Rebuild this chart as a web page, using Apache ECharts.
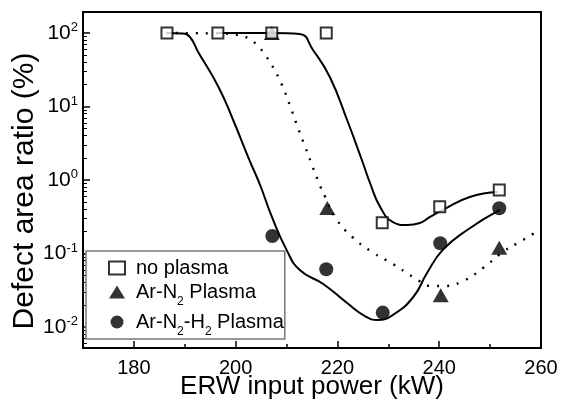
<!DOCTYPE html>
<html>
<head>
<meta charset="utf-8">
<script src="https://cdn.jsdelivr.net/npm/echarts@6/dist/echarts.min.js"></script>
<style>html,body{margin:0;padding:0;background:#fff;}#c{width:573px;height:403px;}</style>
</head>
<body>
<div id="c"></div>
<script>
// ---- data ----
const xNoPlasma = [186.5, 196.5, 207.1, 217.8, 228.8, 240.1, 251.8];
const yNoPlasma = [100, 100, 100, 100, 0.262, 0.434, 0.73];
const xArN2 = [207.1, 218.0, 240.3, 251.8];
const yArN2 = [100, 0.416, 0.027, 0.12];
const xArN2H2 = [207.2, 217.8, 228.9, 240.2, 251.8];
const yArN2H2 = [0.173, 0.061, 0.0157, 0.138, 0.412];

// fitted guide curves
const xFitNoPlasma = [196.5, 207.1, 212.6, 215.2, 218.5, 221.9, 224.8, 226.4, 228.4, 230.9, 233.7, 236.2, 238.2, 240.7, 246.0, 251.5];
const yFitNoPlasma = [100, 100, 96.9, 58.7, 25.2, 6.55, 1.87, 0.91, 0.43, 0.268, 0.244, 0.26, 0.314, 0.391, 0.587, 0.687];
const xFitArN2 = [186.3, 196.5, 200.5, 202.4, 204.2, 205.8, 207.1, 209.1, 210.7, 212.1, 213.6, 215.0, 216.6, 217.6, 219.5, 222.9, 226.8, 230.9, 234.9, 238.6, 240.7, 244.7, 248.6, 252.5, 256.5, 259.0];
const yFitArN2 = [100, 98.4, 93.9, 85.5, 68.7, 50.2, 36.7, 19.6, 10.16, 5.43, 2.90, 1.60, 0.829, 0.587, 0.314, 0.168, 0.105, 0.072, 0.0479, 0.0361, 0.0361, 0.0423, 0.0635, 0.105, 0.153, 0.196];
const xFitArN2H2 = [186.3, 189.5, 191.0, 192.6, 196.6, 199.5, 202.7, 204.8, 207.1, 210.0, 212.6, 217.2, 221.9, 225.4, 227.8, 230.9, 234.9, 237.6, 240.7, 245.5, 251.9];
const yFitArN2H2 = [100, 98.4, 88.2, 55.7, 18.6, 6.55, 1.87, 0.855, 0.317, 0.112, 0.0596, 0.0385, 0.0212, 0.0141, 0.01245, 0.0146, 0.0256, 0.0543, 0.112, 0.209, 0.391];

const xMajorTicks = [180, 200, 220, 240, 260];
const xMinorTicks = [190, 210, 230, 250];
const yMajorTicks = [0.01, 0.1, 1, 10, 100];
const yMinorTicks = [0.006, 0.007, 0.008, 0.009,
  0.02, 0.03, 0.04, 0.05, 0.06, 0.07, 0.08, 0.09,
  0.2, 0.3, 0.4, 0.5, 0.6, 0.7, 0.8, 0.9,
  2, 3, 4, 5, 6, 7, 8, 9,
  20, 30, 40, 50, 60, 70, 80, 90];

const xMin = 170, xMax = 260;
const yMin = 0.00518, yMax = 193;

const seriesNames = ['no plasma', 'Ar-N2 Plasma', 'Ar-N2-H2 Plasma'];
const legendLabels = {
  'no plasma': '{m|no plasma}',
  'Ar-N2 Plasma': '{m|Ar-N}{s|2}{m| Plasma}',
  'Ar-N2-H2 Plasma': '{m|Ar-N}{s|2}{m|-H}{s|2}{m| Plasma}'
};

const zip = (xs, ys) => xs.map((x, i) => [x, ys[i]]);
const FONT = 'Liberation Sans, Arial, Helvetica, sans-serif';

const chart = echarts.init(document.getElementById('c'), null, {renderer: 'canvas'});
chart.setOption({
  backgroundColor: '#fff',
  animation: false,
  textStyle: {fontFamily: FONT, color: '#000'},
  grid: {left: 83, right: 32, top: 12, bottom: 55, containLabel: false, outerBoundsMode: 'none',
         show: true, borderColor: '#000', borderWidth: 2, backgroundColor: 'transparent'},
  legend: {
    data: seriesNames,
    orient: 'vertical',
    left: 86, top: 251,
    padding: [7, 1, 1, 22],
    itemGap: -2,
    itemWidth: 16, itemHeight: 13,
    backgroundColor: '#fff',
    borderColor: '#777', borderWidth: 1.5, borderRadius: 0,
    formatter: n => legendLabels[n],
    textStyle: {
      padding: [0, 0, 0, 6],
      rich: {
        m: {fontSize: 20, lineHeight: 20, fontFamily: FONT, color: '#000'},
        s: {fontSize: 12, lineHeight: 12, padding: [20, 0, 0, 0], fontFamily: FONT, color: '#000'}
      }
    }
  },
  xAxis: [{
    type: 'value', min: xMin, max: xMax,
    name: 'ERW input power (kW)', nameLocation: 'middle', nameGap: 26, nameMoveOverlap: false,
    nameTextStyle: {fontSize: 26, fontFamily: FONT, color: '#000'},
    axisLine: {lineStyle: {color: '#000', width: 2}},
    axisTick: {inside: true, length: 7, lineStyle: {color: '#000', width: 1.5}, customValues: xMajorTicks},
    axisLabel: {fontSize: 20, color: '#000', margin: 10, fontFamily: FONT, customValues: xMajorTicks},
    splitLine: {show: false}
  }, {
    type: 'value', min: xMin, max: xMax, position: 'bottom',
    axisLine: {show: false},
    axisTick: {inside: true, length: 4, lineStyle: {color: '#000', width: 1.5}, customValues: xMinorTicks},
    axisLabel: {show: false},
    splitLine: {show: false}
  }],
  yAxis: [{
    type: 'log', logBase: 10, min: yMin, max: yMax,
    name: 'Defect area ratio (%)', nameLocation: 'middle', nameGap: 43, nameRotate: 90, nameMoveOverlap: false,
    nameTextStyle: {fontSize: 30, fontFamily: FONT, color: '#000', padding: [0, 22, 0, 0]},
    axisLine: {lineStyle: {color: '#000', width: 2}},
    axisTick: {inside: true, length: 7, lineStyle: {color: '#000', width: 1.5}, customValues: yMajorTicks},
    axisLabel: {
      margin: 5, customValues: yMajorTicks,
      formatter: v => '{b|10}{p|' + Math.round(Math.log10(v)) + '}',
      rich: {
        b: {fontSize: 21, lineHeight: 24, fontFamily: FONT, color: '#000'},
        p: {fontSize: 13, lineHeight: 13, verticalAlign: 'top', fontFamily: FONT, color: '#000'}
      }
    },
    splitLine: {show: false}
  }, {
    type: 'log', logBase: 10, min: yMin, max: yMax, position: 'left',
    axisLine: {show: false},
    axisTick: {inside: true, length: 4, lineStyle: {color: '#000', width: 1}, customValues: yMinorTicks},
    axisLabel: {show: false},
    splitLine: {show: false}
  }],
  series: [
    {type: 'line', name: 'fitArN2H2', data: zip(xFitArN2H2, yFitArN2H2), smooth: 0.5, showSymbol: false, symbol: 'none',
     lineStyle: {color: '#000', width: 2}, z: 2, silent: true},
    {type: 'line', name: 'fitNoPlasma', data: zip(xFitNoPlasma, yFitNoPlasma), smooth: 0.5, showSymbol: false, symbol: 'none',
     lineStyle: {color: '#000', width: 2}, z: 2, silent: true},
    {type: 'line', name: 'fitArN2', data: zip(xFitArN2, yFitArN2), smooth: 0.5, showSymbol: false, symbol: 'none',
     lineStyle: {color: '#000', width: 2.4, type: [2, 8], cap: 'butt'}, z: 2, silent: true},
    {type: 'scatter', name: 'Ar-N2 Plasma', data: zip(xArN2, yArN2), symbol: 'triangle', symbolSize: [16, 14],
     itemStyle: {color: '#000'}, z: 3},
    {type: 'scatter', name: 'Ar-N2-H2 Plasma', data: zip(xArN2H2, yArN2H2), symbol: 'circle', symbolSize: 14,
     itemStyle: {color: '#000'}, z: 3},
    {type: 'scatter', name: 'no plasma', data: zip(xNoPlasma, yNoPlasma), symbol: 'rect', symbolSize: 11, symbolKeepAspect: true,
     itemStyle: {color: '#fff', borderColor: '#000', borderWidth: 2}, z: 4}
  ]
});
</script>
</body>
</html>
